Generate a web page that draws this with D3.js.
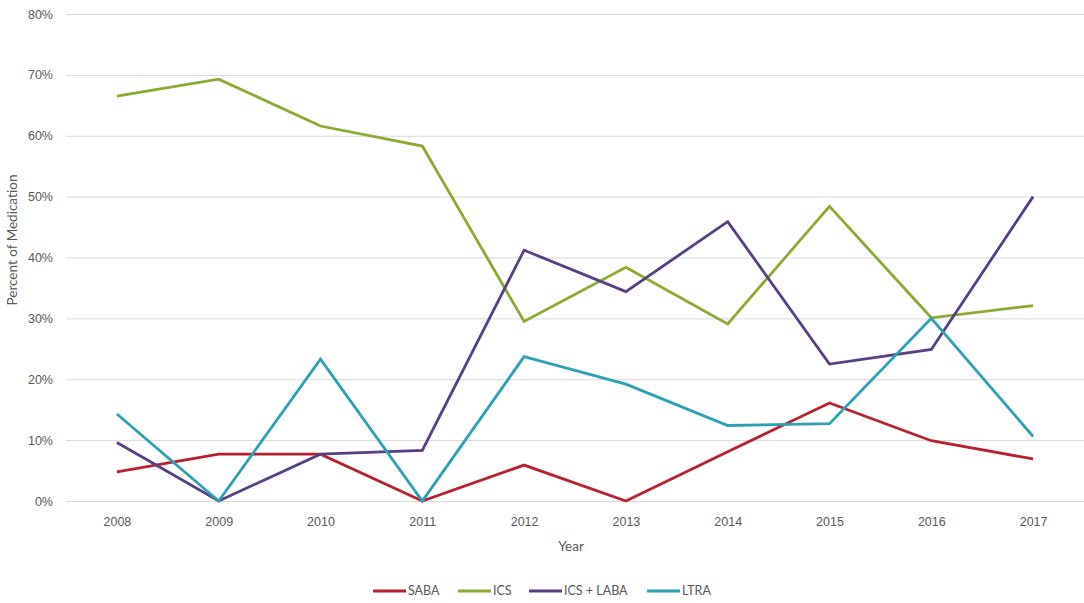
<!DOCTYPE html>
<html>
<head>
  <meta charset="utf-8">
  <style type="text/css">
  body {
    margin: 0;
    background: #fff;
    font-family: Lato, "Open Sans", sans-serif;
  }
  .axis text {
    font-size: 12.5px;
    fill: #595959;
  }
  .axis path, .axis line {
    display: none;
  }
  .grid line {
    stroke: #d9d9d9;
    stroke-width: 1px;
  }
  .grid path {
    display: none;
  }
  .series {
    fill: none;
    stroke-width: 2.8px;
    stroke-linejoin: miter;
  }
  .title {
    font-size: 13.5px;
    fill: #595959;
  }
  .legend text {
    font-size: 12.5px;
    fill: #595959;
  }
  </style>
</head>
<body>
  <script src="https://d3js.org/d3.v7.min.js"></script>
  <script>
    var years = ["2008", "2009", "2010", "2011", "2012", "2013", "2014", "2015", "2016", "2017"];
    var saba    = [4.8, 7.7, 7.7, 0, 5.9, 0, 8.1, 16.1, 9.9, 6.9];
    var ics     = [66.5, 69.3, 61.6, 58.3, 29.5, 38.4, 29.1, 48.4, 30.1, 32.1];
    var icsLaba = [9.6, 0, 7.7, 8.3, 41.2, 34.4, 45.9, 22.5, 24.9, 50.0];
    var ltra    = [14.3, 0, 23.3, 0, 23.7, 19.2, 12.4, 12.7, 30.0, 10.6];
    var yTicks = [0, 10, 20, 30, 40, 50, 60, 70, 80];

    var series = [
      { name: "SABA", values: saba, color: "#b8202f" },
      { name: "ICS", values: ics, color: "#8aab2f" },
      { name: "ICS + LABA", values: icsLaba, color: "#573f83" },
      { name: "LTRA", values: ltra, color: "#2ba2b4" }
    ];

    var W = 1084, H = 603;
    var margin = {top: 14, right: 0, bottom: 102, left: 66};
    var width = W - margin.left - margin.right,
        height = 501 - margin.top;

    var x = d3.scalePoint()
        .domain(years)
        .range([0, width])
        .padding(0.5);
    var y = d3.scaleLinear()
        .domain([0, 80])
        .range([height, 0]);

    var svg = d3.select("body").append("svg")
        .attr("width", W)
        .attr("height", H);
    var g = svg.append("g")
        .attr("transform", "translate(" + margin.left + "," + margin.top + ")");

    // gridlines
    g.append("g")
        .attr("class", "grid")
        .call(d3.axisLeft(y).tickValues(yTicks).tickSize(-width).tickFormat(""));

    // y axis labels
    g.append("g")
        .attr("class", "axis")
        .attr("transform", "translate(-13,0)")
        .call(d3.axisLeft(y).tickValues(yTicks).tickSize(0).tickPadding(0)
          .tickFormat(function(d) { return d + "%"; }));

    // x axis labels
    g.append("g")
        .attr("class", "axis")
        .attr("transform", "translate(0," + height + ")")
        .call(d3.axisBottom(x).tickSize(0).tickPadding(16));

    var line = d3.line()
        .x(function(d, i) { return x(years[i]); })
        .y(function(d) { return y(d); });

    g.selectAll(".series")
        .data(series)
      .enter()
        .append("path")
        .attr("class", "series")
        .attr("stroke", function(d) { return d.color; })
        .attr("d", function(d) { return line(d.values); });

    // axis titles
    svg.append("text")
        .attr("class", "title")
        .attr("transform", "translate(17,240) rotate(-90)")
        .attr("text-anchor", "middle")
        .text("Percent of Medication");
    svg.append("text")
        .attr("class", "title")
        .attr("x", 571)
        .attr("y", 551)
        .attr("text-anchor", "middle")
        .text("Year");

    // legend
    var legendX = [373, 458, 529, 647];
    var legend = svg.selectAll(".legend")
        .data(series)
      .enter()
        .append("g")
        .attr("class", "legend")
        .attr("transform", function(d, i) { return "translate(" + legendX[i] + ",591)"; });
    legend.append("line")
        .attr("x1", 0).attr("x2", 33)
        .attr("stroke", function(d) { return d.color; })
        .attr("stroke-width", 3);
    legend.append("text")
        .attr("x", 35)
        .attr("dy", "0.35em")
        .text(function(d) { return d.name; });
  </script>
</body>
</html>
